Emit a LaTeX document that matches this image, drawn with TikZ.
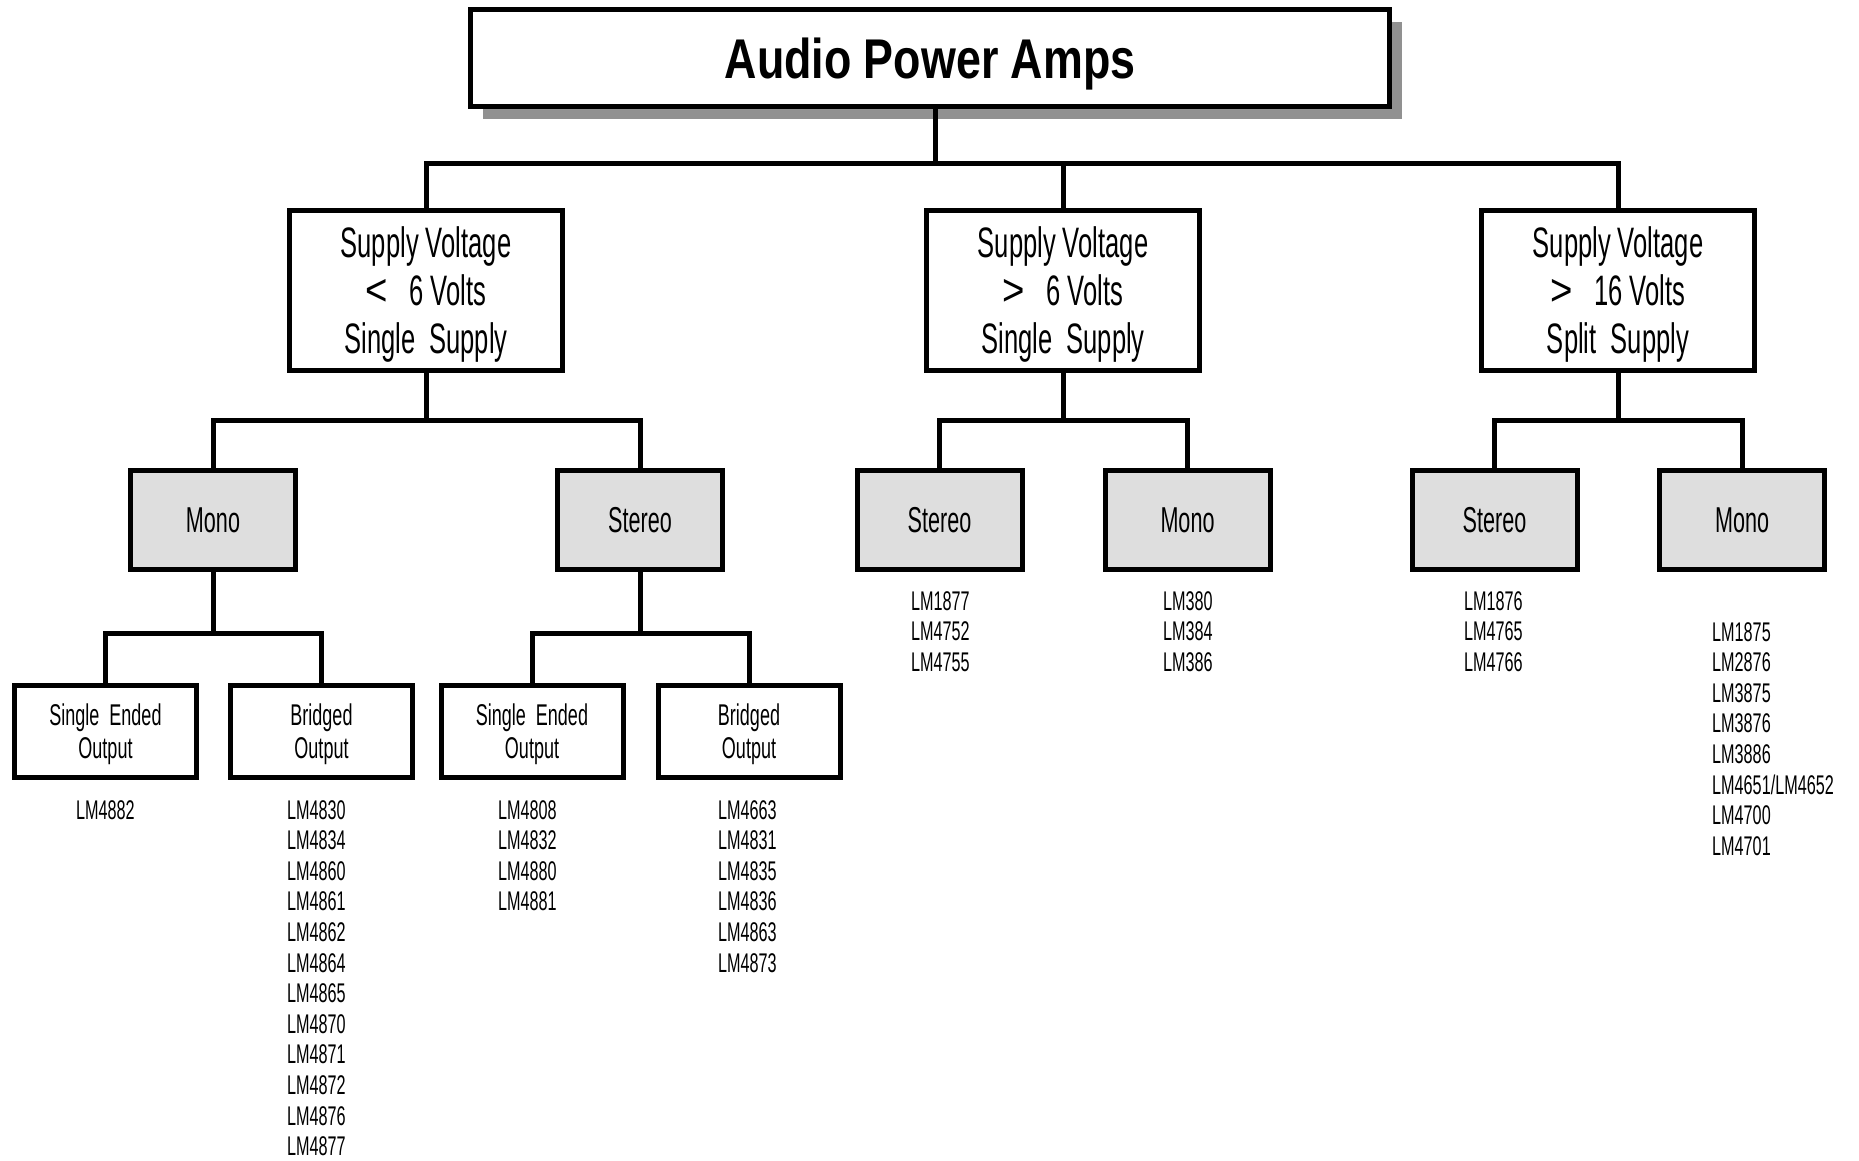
\documentclass[tikz,border=0pt]{standalone}
\usepackage{fontspec}
\usepackage{graphicx}
\setmainfont{Liberation Sans}[FakeStretch=0.6]
\newfontfamily\titlefont{Liberation Sans}[FakeStretch=0.8]
\usetikzlibrary{shadows}
\definecolor{boxgray}{HTML}{DEDEDE}
\definecolor{shadowgray}{HTML}{919191}
\newcommand{\bigrel}[1]{\scalebox{1.5}[1.05]{#1}\hspace{0.5em}}
\begin{document}
\begin{tikzpicture}[x=1pt,y=-1pt,
  box/.style={draw, line width=5pt, rectangle, inner sep=0pt, align=center, text depth=0pt},
  lvltop/.style={box, fill=white, minimum width=919pt, minimum height=97pt,
    font=\titlefont\bfseries\fontsize{56}{60}\selectfont,
    drop shadow={shadow xshift=12.5pt, shadow yshift=-12.5pt, fill=shadowgray, opacity=1}},
  lvltwo/.style={box, fill=white, minimum width=273pt, minimum height=160pt, font=\fontsize{42.6}{48}\selectfont},
  lvlthree/.style={box, fill=boxgray, minimum width=165pt, minimum height=99pt, font=\fontsize{36}{40}\selectfont},
  lvlfour/.style={box, fill=white, minimum width=182pt, minimum height=92pt, font=\fontsize{30}{33}\selectfont},
  parts/.style={anchor=north west, inner sep=0pt, align=left, font=\fontsize{27}{30.6}\selectfont},
  conn/.style={line width=5pt}]
\useasboundingbox (0,0) rectangle (1859,1160);

% title
\node[lvltop] (top) at (930,58) {Audio Power Amps};

% level 2
\node[lvltwo] (A) at (426,290.5) {Supply Voltage\\\bigrel{<}6 Volts\\Single\ \ Supply};
\node[lvltwo] (B) at (1063,290.5) {Supply Voltage\\\bigrel{>}6 Volts\\Single\ \ Supply};
\node[lvltwo] (C) at (1618,290.5) {Supply Voltage\\\bigrel{>}16 Volts\\Split\ \ Supply};

% level 3
\node[lvlthree] (monoA) at (213,520) {Mono};
\node[lvlthree] (stereoA) at (640,520) {Stereo};
\node[lvlthree] (stereoB) at (939.5,520) {Stereo};
\node[lvlthree] (monoB) at (1187.5,520) {Mono};
\node[lvlthree] (stereoC) at (1494.5,520) {Stereo};
\node[lvlthree] (monoC) at (1742,520) {Mono};

% level 4
\node[lvlfour] (se1) at (105.5,731.5) {Single\ \ Ended\\Output};
\node[lvlfour] (br1) at (321.5,731.5) {Bridged\\Output};
\node[lvlfour] (se2) at (532,731.5) {Single\ \ Ended\\Output};
\node[lvlfour] (br2) at (749,731.5) {Bridged\\Output};

% part lists
\node[parts] (l1) at (76,800) {LM4882};
\node[parts] (l2) at (287,800) {LM4830\\LM4834\\LM4860\\LM4861\\LM4862\\LM4864\\LM4865\\LM4870\\LM4871\\LM4872\\LM4876\\LM4877};
\node[parts] (l3) at (498,800) {LM4808\\LM4832\\LM4880\\LM4881};
\node[parts] (l4) at (718,800) {LM4663\\LM4831\\LM4835\\LM4836\\LM4863\\LM4873};
\node[parts] (l5) at (911,591) {LM1877\\LM4752\\LM4755};
\node[parts] (l6) at (1163,591) {LM380\\LM384\\LM386};
\node[parts] (l7) at (1464,591) {LM1876\\LM4765\\LM4766};
\node[parts] (l8) at (1712,622) {LM1875\\LM2876\\LM3875\\LM3876\\LM3886\\LM4651/LM4652\\LM4700\\LM4701};

% buses
\coordinate (b1) at (935,163.5);
\coordinate (b2) at (0,420.5);
\coordinate (b3) at (0,633);

% connectors
\draw[conn] ([xshift=5pt]top.south) -- (b1);
\draw[conn] (A.north) -- (A.north |- b1) -- (C.north |- b1) -- (C.north);
\draw[conn] (B.north) -- (B.north |- b1);

\draw[conn] (A.south) -- (A.south |- b2);
\draw[conn] (monoA.north) -- (monoA.north |- b2) -- (stereoA.north |- b2) -- (stereoA.north);
\draw[conn] (B.south) -- (B.south |- b2);
\draw[conn] (stereoB.north) -- (stereoB.north |- b2) -- (monoB.north |- b2) -- (monoB.north);
\draw[conn] (C.south) -- (C.south |- b2);
\draw[conn] (stereoC.north) -- (stereoC.north |- b2) -- (monoC.north |- b2) -- (monoC.north);

\draw[conn] (monoA.south) -- (monoA.south |- b3);
\draw[conn] (se1.north) -- (se1.north |- b3) -- (br1.north |- b3) -- (br1.north);
\draw[conn] (stereoA.south) -- (stereoA.south |- b3);
\draw[conn] (se2.north) -- (se2.north |- b3) -- (br2.north |- b3) -- (br2.north);
\end{tikzpicture}
\end{document}
